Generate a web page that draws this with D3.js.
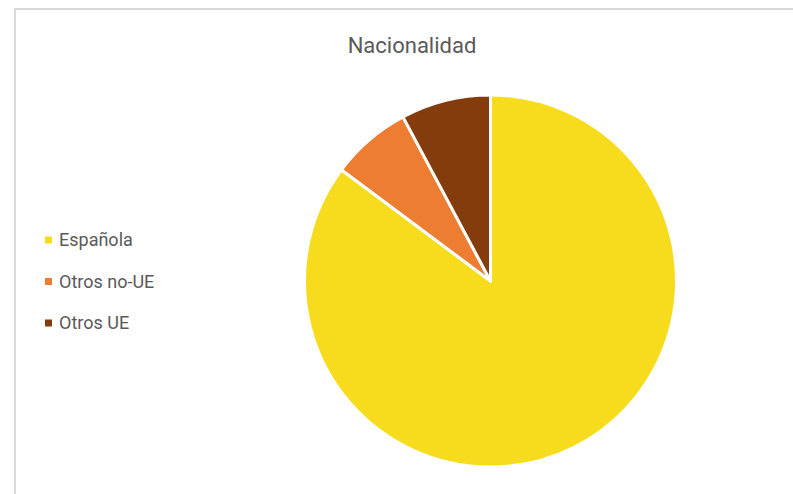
<!DOCTYPE html>
<html>
<head>
<meta charset="utf-8">
<script src="https://cdn.jsdelivr.net/npm/d3@7/dist/d3.min.js"></script>
<style>
  html, body { margin: 0; padding: 0; background: #fff; }
  svg { display: block; font-family: Roboto, "Noto Sans", sans-serif; }
</style>
</head>
<body>
<svg id="chart" width="793" height="494"></svg>
<script>
// Share of people by nationality (%)
const categories = ["Española", "Otros no-UE", "Otros UE"];
const values = [85.2, 7.0, 7.8];
const colors = ["#F7DC1E", "#ED7D31", "#843C0C"];
const title = "Nacionalidad";

const svg = d3.select("#chart");
const W = 793, H = 494;

// chart frame
svg.append("rect")
  .attr("x", 15).attr("y", 9)
  .attr("width", W).attr("height", H)
  .attr("fill", "#fff")
  .attr("stroke", "#d9d9d9")
  .attr("stroke-width", 2);

// title
svg.append("text")
  .attr("x", 412).attr("y", 53)
  .attr("text-anchor", "middle")
  .attr("font-size", 22)
  .attr("fill", "#595959")
  .text(title);

// pie
const cx = 490.5, cy = 281, r = 186;
const pie = d3.pie().sort(null).value(d => d.v);
const arc = d3.arc().innerRadius(0).outerRadius(r);
const data = categories.map((c, i) => ({ c, v: values[i], col: colors[i] }));

svg.append("g")
  .attr("transform", `translate(${cx},${cy})`)
  .selectAll("path")
  .data(pie(data))
  .join("path")
  .attr("d", arc)
  .attr("fill", d => d.data.col)
  .attr("stroke", "#fff")
  .attr("stroke-width", 3)
  .attr("stroke-linejoin", "round");

// legend
const legend = svg.append("g").attr("transform", "translate(45,0)");
const rowY = d3.scalePoint().domain(categories).range([240, 323]);
const items = legend.selectAll("g").data(data).join("g")
  .attr("transform", d => `translate(0,${rowY(d.c)})`);
items.append("rect")
  .attr("x", 0).attr("y", -3.5)
  .attr("width", 7).attr("height", 7)
  .attr("fill", d => d.col);
items.append("text")
  .attr("x", 14).attr("y", 0)
  .attr("dy", "0.35em")
  .attr("font-size", 18)
  .attr("fill", "#595959")
  .text(d => d.c);
</script>
</body>
</html>
